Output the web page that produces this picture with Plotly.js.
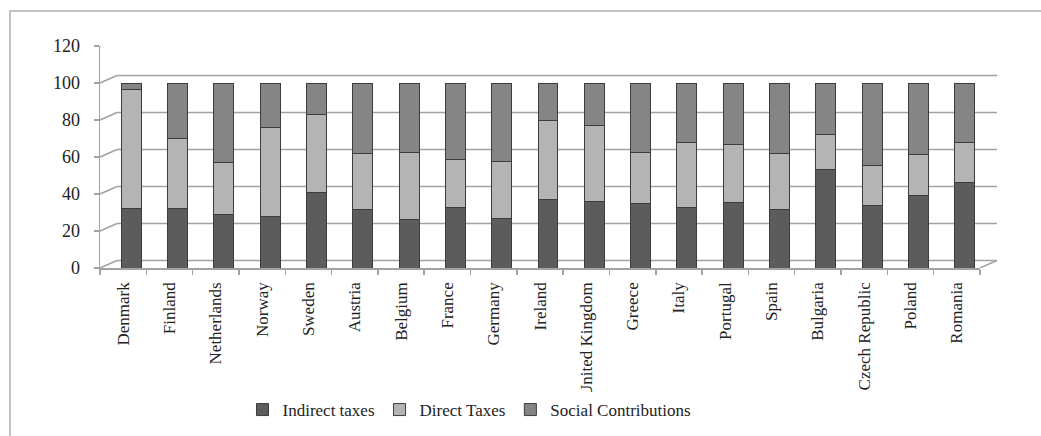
<!DOCTYPE html>
<html>
<head>
<meta charset="utf-8">
<script src="https://cdn.plot.ly/plotly-3.0.1.min.js"></script>
<style>html,body{margin:0;padding:0;background:#fff;}#chart{width:1041px;height:436px;}</style>
</head>
<body>
<div id="chart"></div>
<script>
const countries = ["Denmark","Finland","Netherlands","Norway","Sweden","Austria","Belgium","France","Germany","Ireland","United Kingdom","Greece","Italy","Portugal","Spain","Bulgaria","Czech Republic","Poland","Romania"];
const indirectTaxes = [32, 32, 29, 28, 41, 31.5, 26, 32.5, 27, 37, 36, 35, 32.5, 35.5, 31.5, 53.5, 34, 39, 46];
const directTaxes = [64.4, 38, 28, 48, 42, 30.5, 36.5, 26, 30.7, 43, 41, 27.7, 35.5, 31.5, 30.5, 18.5, 21.5, 22.3, 22];
const socialContributions = [3.6, 30, 43, 24, 17, 38, 37.5, 41.5, 42.3, 20, 23, 37.3, 32, 33, 38, 28, 44.5, 38.7, 32];
const yTicks = [0, 20, 40, 60, 80, 100, 120];

const W = 1041, H = 436;
const px = v => v / W;           // horizontal pixel -> paper
const barW = 0.43;
const barOffset = -barW / 2 + 8 / 46.3;
const backShift = 7.5 / 1.85;    // depth shift of back wall in data units
const font = "Liberation Serif";

function barTrace(name, vals, color) {
  return {
    type: "bar", name: name, x: countries, y: vals,
    width: barW, offset: barOffset,
    marker: {color: color, line: {color: "#3c3c3c", width: 1}},
    hoverinfo: "x+y+name"
  };
}
const traces = [
  barTrace("Indirect taxes", indirectTaxes, "#5c5c5c"),
  barTrace("Direct Taxes", directTaxes, "#b4b4b4"),
  barTrace("Social Contributions", socialContributions, "#858585")
];

const gridColor = "#a2a2a2";
const shapes = [];
yTicks.forEach(v => {
  shapes.push({type: "line", xref: "paper", yref: "y", x0: px(117), x1: px(997), y0: v + backShift, y1: v + backShift, line: {color: gridColor, width: 1.5}, layer: "below"});
  shapes.push({type: "line", xref: "paper", yref: "y", x0: px(100), x1: px(117), y0: v, y1: v + backShift, line: {color: gridColor, width: 1.5}, layer: "below"});
});
shapes.push({type: "line", xref: "paper", yref: "y", x0: px(980), x1: px(997), y0: 0, y1: backShift, line: {color: gridColor, width: 1.5}, layer: "below"});
// outer frame
shapes.push({type: "rect", xref: "paper", yref: "paper", x0: px(10), x1: px(1050), y0: (H - 11) / H, y1: -0.05, line: {color: "#b0b0b0", width: 1.5}, fillcolor: "rgba(0,0,0,0)"});

const layout = {
  width: W, height: H,
  margin: {l: 0, r: 0, t: 0, b: 0},
  paper_bgcolor: "#fff", plot_bgcolor: "rgba(0,0,0,0)",
  font: {family: font, color: "#222"},
  barmode: "stack",
  showlegend: true,
  legend: {orientation: "h", traceorder: "normal", x: 0.451, xanchor: "center", y: (H - 410) / H, yanchor: "middle",
           font: {family: font, size: 17, color: "#222"}, itemwidth: 30, tracegroupgap: 0},
  xaxis: {
    domain: [px(100), px(980)], type: "category",
    showline: true, linecolor: gridColor, linewidth: 1.5,
    ticks: "outside", tickson: "boundaries", ticklen: 5, tickcolor: gridColor, tickwidth: 1.5,
    ticklabelstandoff: 6,
    tickangle: -90, tickfont: {family: font, size: 17, color: "#222"},
    showgrid: false, zeroline: false
  },
  yaxis: {
    domain: [(H - 268) / H, (H - 46) / H], range: [0, 120],
    tickvals: yTicks, ticktext: yTicks.map(String),
    showline: true, linecolor: gridColor, linewidth: 1.5,
    ticks: "outside", ticklen: 5, tickcolor: gridColor, tickwidth: 1.5,
    ticklabelstandoff: 10,
    tickfont: {family: font, size: 18, color: "#222"},
    showgrid: false, zeroline: false
  },
  shapes: shapes
};

Plotly.newPlot("chart", traces, layout, {displayModeBar: false, staticPlot: true});
</script>
</body>
</html>
